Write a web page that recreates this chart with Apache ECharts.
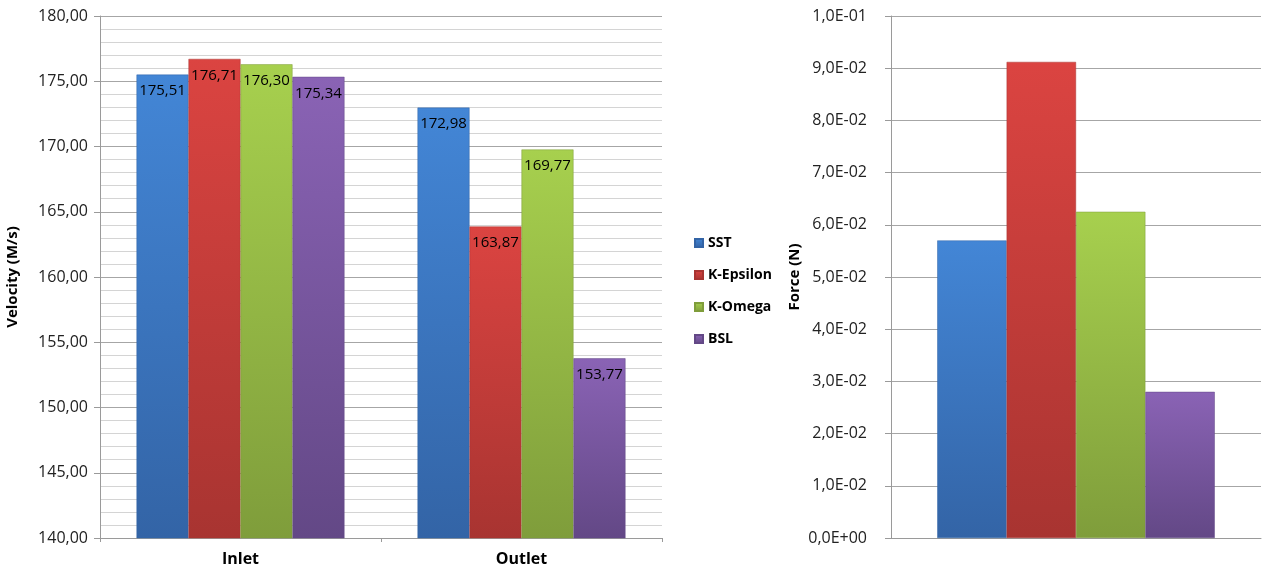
<!DOCTYPE html>
<html>
<head>
    <meta charset="utf-8">
    <script src="https://cdn.jsdelivr.net/npm/echarts@6/dist/echarts.min.js"></script>
    <style>
        html, body { margin: 0; padding: 0; background: #fff; }
        #main { width: 1269px; height: 577px; }
    </style>
</head>
<body>
<div id="main"></div>
<script type="text/javascript">
// data
var categories = ['Inlet', 'Outlet'];
var models = ['SST', 'K-Epsilon', 'K-Omega', 'BSL'];
var velocitySST = [175.51, 172.98];
var velocityKEpsilon = [176.71, 163.87];
var velocityKOmega = [176.30, 169.77];
var velocityBSL = [175.34, 153.77];
var forceValues = [0.0570, 0.0912, 0.0625, 0.0280];
var velocityTicks = [140, 180, 5];
var forceTicks = [0, 0.1, 0.01];

var velocityData = [velocitySST, velocityKEpsilon, velocityKOmega, velocityBSL];

// Excel style colours, light on top, darker at bottom
var colors = [
    ['#4386d6', '#3364a6'],
    ['#db4441', '#a83431'],
    ['#a7d04e', '#7f9d3b'],
    ['#8a63b5', '#634886']
];

function grad(c) {
    return new echarts.graphic.LinearGradient(0, 0, 0, 1, [
        {offset: 0, color: c[0]},
        {offset: 1, color: c[1]}
    ]);
}

function comma(v) {
    return v.toFixed(2).replace('.', ',');
}

function sci(v) {
    if (Math.abs(v) < 1e-12) return '0,0E+00';
    var s = v.toExponential(1).split('e');
    var e = parseInt(s[1], 10);
    var ex = (e < 0 ? '-' : '+') + (Math.abs(e) < 10 ? '0' : '') + Math.abs(e);
    return s[0].replace('.', ',') + 'E' + ex;
}

var series = [];
for (var i = 0; i < models.length; i++) {
    series.push({
        name: models[i],
        type: 'bar',
        xAxisIndex: 0,
        yAxisIndex: 0,
        barGap: '0%',
        barCategoryGap: '26%',
        data: velocityData[i],
        itemStyle: {color: grad(colors[i]), borderColor: colors[i][1], borderWidth: 0.5},
        label: {
            show: true,
            position: 'insideTop',
            distance: 9,
            color: '#000',
            fontSize: 15,
            fontFamily: 'Open Sans',
            formatter: function (p) { return comma(p.value); }
        }
    });
}
for (var j = 0; j < models.length; j++) {
    series.push({
        name: models[j],
        type: 'bar',
        xAxisIndex: 1,
        yAxisIndex: 1,
        barGap: '0%',
        barCategoryGap: '25%',
        data: [forceValues[j]],
        itemStyle: {color: grad(colors[j]), borderColor: colors[j][1], borderWidth: 0.5}
    });
}

var myChart = echarts.init(document.getElementById('main'));

var option = {
    animation: false,
    textStyle: {fontFamily: 'Open Sans'},
    legend: {
        data: models,
        orient: 'vertical',
        left: 689,
        top: 231,
        itemWidth: 8,
        itemHeight: 8,
        itemGap: 18,
        icon: 'rect',
        textStyle: {fontSize: 14, fontWeight: 'bold', color: '#000'}
    },
    grid: [
        {left: 100, right: 607, top: 16, bottom: 39},
        {left: 891, right: 8, top: 16, bottom: 39}
    ],
    xAxis: [
        {
            type: 'category',
            gridIndex: 0,
            data: categories,
            axisLine: {lineStyle: {color: '#9a9a9a'}},
            axisTick: {show: true, length: 4, lineStyle: {color: '#9a9a9a'}},
            axisLabel: {fontSize: 16, fontWeight: 'bold', color: '#000', margin: 13}
        },
        {
            type: 'category',
            gridIndex: 1,
            data: [''],
            axisLine: {lineStyle: {color: '#9a9a9a'}},
            axisTick: {show: false},
            axisLabel: {show: false}
        }
    ],
    yAxis: [
        {
            type: 'value',
            gridIndex: 0,
            min: velocityTicks[0],
            max: velocityTicks[1],
            interval: velocityTicks[2],
            name: 'Velocity (M/s)',
            nameLocation: 'middle',
            nameGap: 80,
            nameTextStyle: {fontSize: 15, fontWeight: 'bold', color: '#000'},
            axisLine: {show: true, lineStyle: {color: '#9a9a9a'}},
            axisTick: {show: true, length: 6, lineStyle: {color: '#9a9a9a'}},
            axisLabel: {fontSize: 16, color: '#222', margin: 12, formatter: comma},
            splitLine: {lineStyle: {color: '#a6a6a6'}},
            minorTick: {show: false, splitNumber: 5},
            minorSplitLine: {show: true, lineStyle: {color: '#d4d4d4'}}
        },
        {
            type: 'value',
            gridIndex: 1,
            min: forceTicks[0],
            max: forceTicks[1],
            interval: forceTicks[2],
            name: 'Force (N)',
            nameLocation: 'middle',
            nameGap: 89,
            nameTextStyle: {fontSize: 15, fontWeight: 'bold', color: '#000'},
            axisLine: {show: true, lineStyle: {color: '#9a9a9a'}},
            axisTick: {show: true, length: 6, lineStyle: {color: '#9a9a9a'}},
            axisLabel: {fontSize: 16, color: '#222', margin: 24, formatter: sci},
            splitLine: {lineStyle: {color: '#a6a6a6'}}
        }
    ],
    series: series
};

myChart.setOption(option);
</script>
</body>
</html>
